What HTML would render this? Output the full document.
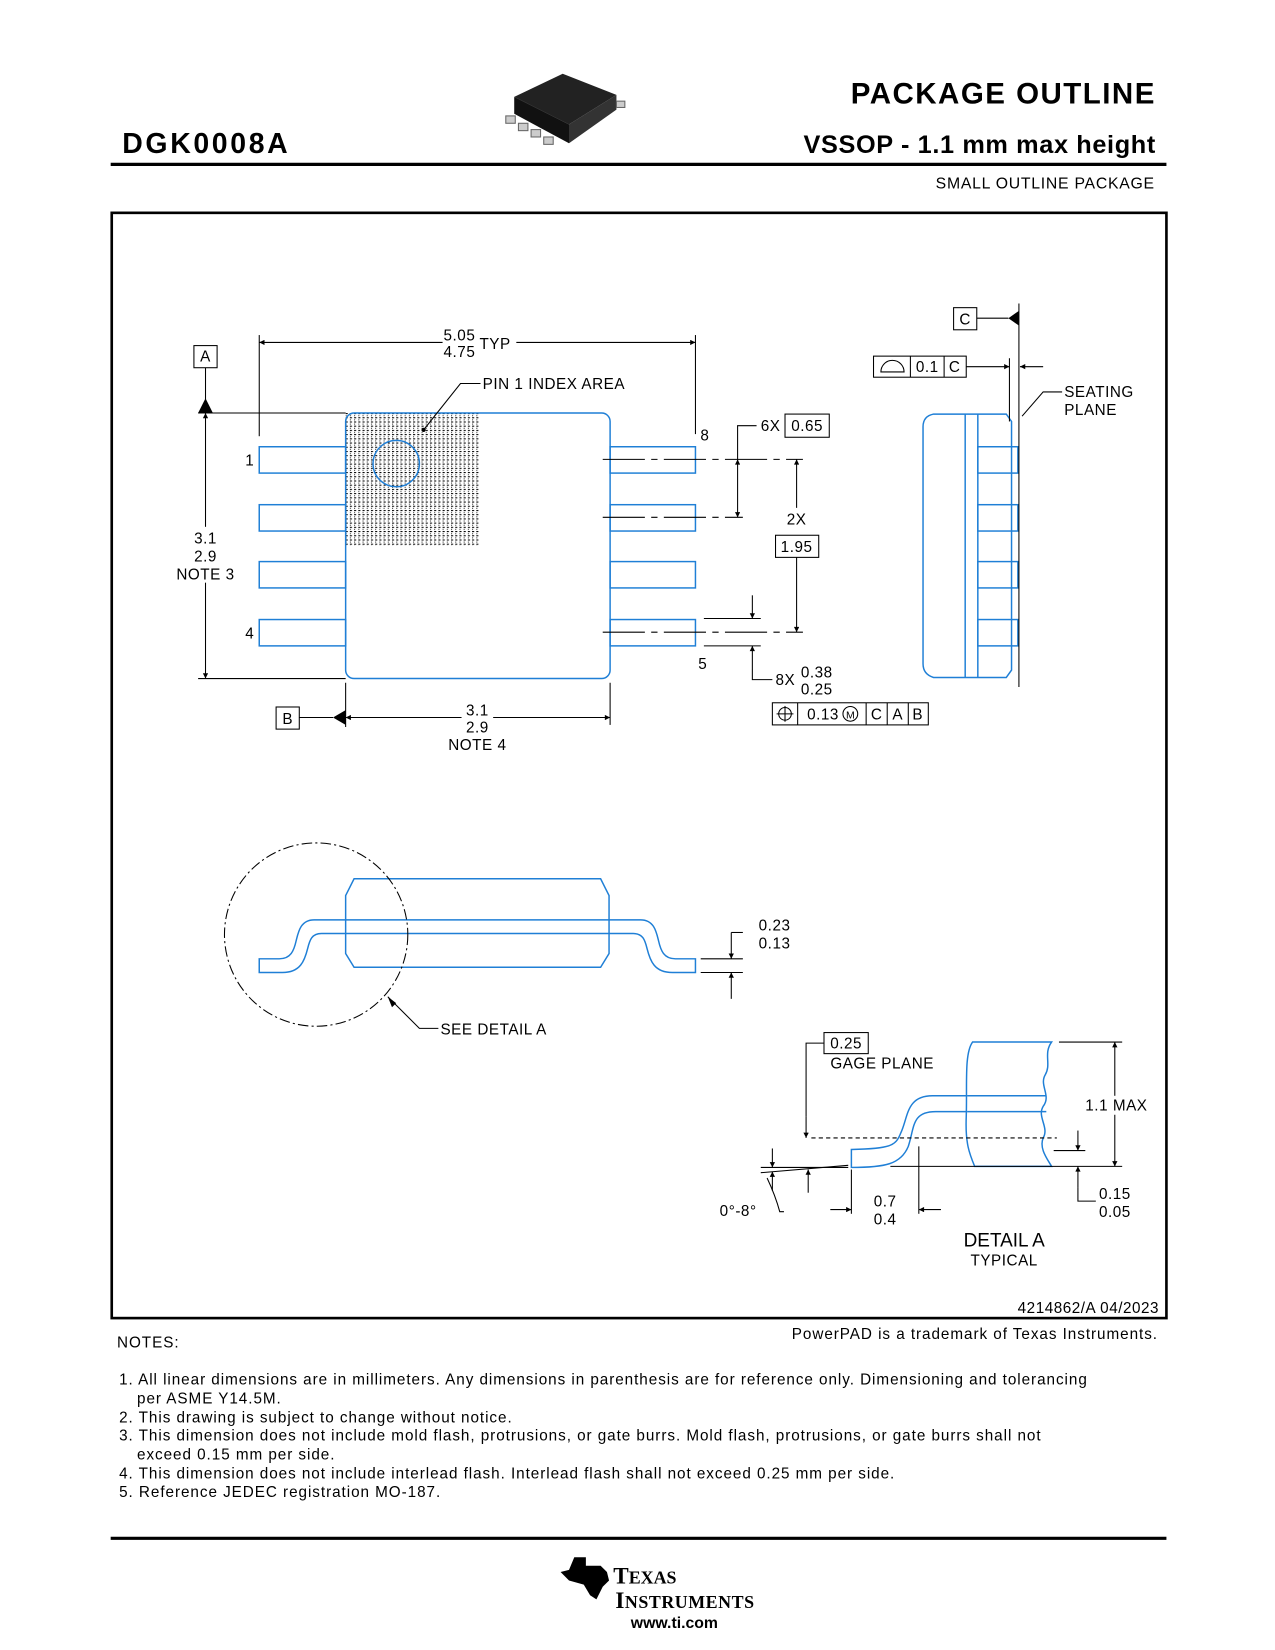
<!DOCTYPE html>
<html><head><meta charset="utf-8"><style>
html,body{margin:0;padding:0;background:#fff}
svg{display:block}
text{font-family:"Liberation Sans",Arial,sans-serif;fill:#000}
.t{font-size:14.5px;letter-spacing:0.5px}
.n{font-size:14.5px;letter-spacing:0.9px}
.b{stroke:#1f7fd6;stroke-width:1.4;fill:none}
.k{stroke:#000;stroke-width:1;fill:none}
.kf{fill:#000;stroke:none}
</style></head><body>
<svg width="1275" height="1650" viewBox="0 0 1210 1566" xmlns="http://www.w3.org/2000/svg" xml:space="preserve">
<defs>
<pattern id="h" width="4" height="4" patternUnits="userSpaceOnUse"><rect x="0" y="0" width="2" height="1" fill="#000"/><rect x="0" y="2" width="1" height="1" fill="#333"/></pattern>
<marker id="a" viewBox="0 0 10 10" refX="10" refY="5" markerWidth="9" markerHeight="5" orient="auto-start-reverse" markerUnits="userSpaceOnUse"><path d="M0 0 L10 5 L0 10 z" fill="#000"/></marker>
</defs>
<!-- header -->
<text x="1097" y="98" font-size="28" font-weight="bold" text-anchor="end" letter-spacing="1.4">PACKAGE OUTLINE</text>
<text x="116" y="145" font-size="27" font-weight="bold" letter-spacing="2.5">DGK0008A</text>
<text x="1097" y="145" font-size="24" font-weight="bold" text-anchor="end" letter-spacing="0.6">VSSOP - 1.1 mm max height</text>
<line x1="105" y1="156" x2="1107" y2="156" stroke="#000" stroke-width="3"/>
<text x="1096" y="179" font-size="15" text-anchor="end" letter-spacing="0.7">SMALL OUTLINE PACKAGE</text>
<!-- chip icon -->
<path d="M488 92 L534 70 L585 90 L540 118 Z" fill="#222"/>
<path d="M488 92 L540 118 L540 136 L488 108 Z" fill="#111"/>
<path d="M540 118 L585 90 L585 104 L540 136 Z" fill="#333"/>
<g fill="#ccc" stroke="#666" stroke-width="1"><rect x="480" y="110" width="9" height="7"/><rect x="492" y="117" width="9" height="7"/><rect x="504" y="123" width="9" height="7"/><rect x="516" y="130" width="9" height="7"/><rect x="585" y="96" width="8" height="6"/></g>
<!-- frame -->
<rect x="106" y="202" width="1001" height="1049" fill="none" stroke="#000" stroke-width="2.5"/>

<!-- TOP VIEW -->
<rect x="328" y="392" width="127" height="126" fill="url(#h)"/>
<rect x="328" y="392" width="251" height="252" rx="8" class="b"/>
<circle cx="376" cy="440" r="22" class="b"/>
<g class="b">
<rect x="246" y="424" width="82" height="25"/><rect x="246" y="479" width="82" height="25"/><rect x="246" y="533" width="82" height="25"/><rect x="246" y="588" width="82" height="25"/>
<rect x="579" y="424" width="81" height="25"/><rect x="579" y="479" width="81" height="25"/><rect x="579" y="533" width="81" height="25"/><rect x="579" y="588" width="81" height="25"/>
</g>
<g class="k">
<line x1="246" y1="318" x2="246" y2="414"/><line x1="660" y1="318" x2="660" y2="412"/>
<line x1="246" y1="325" x2="420" y2="325" marker-start="url(#a)"/><line x1="490" y1="325" x2="660" y2="325" marker-end="url(#a)"/>
<rect x="184" y="328" width="22" height="21"/>
<line x1="195" y1="349" x2="195" y2="382"/>
<line x1="188" y1="392" x2="328" y2="392"/><line x1="188" y1="644" x2="328" y2="644"/>
<line x1="195" y1="392" x2="195" y2="500" marker-start="url(#a)"/><line x1="195" y1="553" x2="195" y2="644" marker-end="url(#a)"/>
<polyline points="456,364 437,364 402,408"/>
<rect x="262" y="671" width="22" height="21"/><line x1="284" y1="681" x2="316" y2="681"/>
<line x1="328" y1="648" x2="328" y2="690"/><line x1="579" y1="648" x2="579" y2="688"/>
<line x1="328" y1="681" x2="438" y2="681" marker-start="url(#a)"/><line x1="468" y1="681" x2="579" y2="681" marker-end="url(#a)"/>
<line x1="572" y1="436" x2="762" y2="436" stroke-dasharray="40,6,6,6"/>
<line x1="572" y1="491" x2="705" y2="491" stroke-dasharray="40,6,6,6"/>
<line x1="572" y1="600" x2="762" y2="600" stroke-dasharray="40,6,6,6"/>
<polyline points="718,404 700,404 700,436"/>
<line x1="700" y1="436" x2="700" y2="491" marker-start="url(#a)" marker-end="url(#a)"/>
<rect x="745" y="393" width="42" height="22"/>
<line x1="756" y1="436" x2="756" y2="482" marker-start="url(#a)"/><line x1="756" y1="529" x2="756" y2="600" marker-end="url(#a)"/>
<rect x="736" y="508" width="41" height="21"/>
<line x1="668" y1="587" x2="722" y2="587"/><line x1="668" y1="613" x2="722" y2="613"/>
<line x1="714" y1="565" x2="714" y2="587" marker-end="url(#a)"/><line x1="714" y1="635" x2="714" y2="613" marker-end="url(#a)"/>
<polyline points="714,635 714,645 733,645"/>
<rect x="733" y="667" width="148" height="21"/>
<line x1="757" y1="667" x2="757" y2="688"/><line x1="822" y1="667" x2="822" y2="688"/><line x1="842" y1="667" x2="842" y2="688"/><line x1="862" y1="667" x2="862" y2="688"/>
<circle cx="745" cy="677.5" r="6"/><line x1="737" y1="677.5" x2="753" y2="677.5"/><line x1="745" y1="670" x2="745" y2="685"/>
<circle cx="807" cy="677.5" r="7"/>
</g>
<path d="M188 392 L195 378 L202 392 Z" class="kf"/>
<path d="M316 681 L328 674 L328 688 Z" class="kf"/>
<circle cx="402" cy="408" r="2" class="kf"/>
<g class="t">
<text x="436" y="323" text-anchor="middle">5.05</text><text x="436" y="339" text-anchor="middle">4.75</text><text x="455" y="331">TYP</text>
<text x="195" y="343" text-anchor="middle">A</text>
<text x="458" y="369">PIN 1 INDEX AREA</text>
<text x="195" y="516" text-anchor="middle">3.1</text><text x="195" y="533" text-anchor="middle">2.9</text><text x="195" y="550" text-anchor="middle">NOTE 3</text>
<text x="237" y="442" text-anchor="middle">1</text><text x="237" y="606" text-anchor="middle">4</text>
<text x="669" y="418" text-anchor="middle">8</text><text x="667" y="635" text-anchor="middle">5</text>
<text x="273" y="687" text-anchor="middle">B</text>
<text x="453" y="679" text-anchor="middle">3.1</text><text x="453" y="695" text-anchor="middle">2.9</text><text x="453" y="712" text-anchor="middle">NOTE 4</text>
<text x="722" y="409">6X</text><text x="766" y="409" text-anchor="middle">0.65</text>
<text x="756" y="498" text-anchor="middle">2X</text><text x="756" y="524" text-anchor="middle">1.95</text>
<text x="736" y="650">8X</text><text x="760" y="643">0.38</text><text x="760" y="659">0.25</text>
<text x="766" y="683">0.13</text><text x="832" y="683" text-anchor="middle">C</text><text x="852" y="683" text-anchor="middle">A</text><text x="871" y="683" text-anchor="middle">B</text>
<text x="807" y="682" text-anchor="middle" font-size="10" letter-spacing="0">M</text>
</g>

<!-- SIDE VIEW -->
<path d="M886 393 L955 393 L960 400 L960 636 L955 643 L886 643 Q876 640 876 630 L876 405 Q876 395 886 393 Z" class="b"/>
<g class="b"><line x1="916" y1="393" x2="916" y2="643"/><line x1="928" y1="393" x2="928" y2="643"/>
<rect x="928" y="424" width="38" height="25"/><rect x="928" y="479" width="38" height="25"/><rect x="928" y="533" width="38" height="25"/><rect x="928" y="588" width="38" height="25"/></g>
<g class="k">
<rect x="905" y="292" width="22" height="21"/><line x1="927" y1="302" x2="957" y2="302"/>
<line x1="967" y1="288" x2="967" y2="652"/>
<line x1="958" y1="340" x2="958" y2="400"/>
<rect x="829" y="338" width="88" height="20"/><line x1="864" y1="338" x2="864" y2="358"/><line x1="896" y1="338" x2="896" y2="358"/>
<path d="M836 353 A11 11 0 0 1 858 353 Z"/>
<line x1="917" y1="348" x2="958" y2="348" marker-end="url(#a)"/>
<line x1="990" y1="348" x2="968" y2="348" marker-end="url(#a)"/>
<polyline points="1008,372 990,372 970,395"/>
</g>
<path d="M957 302 L967 295 L967 309 Z" class="kf"/>
<g class="t"><text x="916" y="308" text-anchor="middle">C</text><text x="880" y="353" text-anchor="middle">0.1</text><text x="906" y="353" text-anchor="middle">C</text>
<text x="1010" y="377">SEATING</text><text x="1010" y="394">PLANE</text></g>

<!-- END VIEW -->
<path d="M336 834 L570 834 L578 850 L578 905 L570 918 L336 918 L328 905 L328 850 Z" class="b"/>
<g class="b">
<line x1="328" y1="873" x2="578" y2="873"/><line x1="328" y1="886" x2="578" y2="886"/>
<path d="M328 873 L298 873 C285 873 283 885 281 893 C279 902 276 910 265 910 L246 910 L246 923 L268 923 C285 923 289 912 292 900 C294 892 296 886 305 886 L328 886"/>
<path d="M578 873 L608 873 C621 873 623 885 625 893 C627 902 630 910 641 910 L660 910 L660 923 L638 923 C621 923 617 912 614 900 C612 892 610 886 601 886 L578 886"/>
</g>
<g class="k">
<circle cx="300" cy="887" r="87" stroke-dasharray="10,3,2,3"/>
<polyline points="368,946 398,976 416,976"/>
<line x1="665" y1="910" x2="705" y2="910"/><line x1="665" y1="923" x2="705" y2="923"/>
<line x1="694" y1="885" x2="694" y2="910" marker-end="url(#a)"/><polyline points="694,885 705,885"/>
<line x1="694" y1="948" x2="694" y2="923" marker-end="url(#a)"/>
</g>
<path d="M368 946 L376 952 L372 956 Z" class="kf"/>
<g class="t"><text x="720" y="883">0.23</text><text x="720" y="900">0.13</text><text x="418" y="982">SEE DETAIL  A</text></g>

<!-- DETAIL A -->
<g class="b">
<path d="M923 989 L998 989 C990 1000 998 1010 992 1020 C986 1030 998 1040 990 1050 C984 1060 996 1070 990 1080 C986 1090 994 1100 998 1107 L925 1107 C920 1095 916 1085 917 1060 C918 1030 915 1000 923 989 Z"/>
<line x1="918" y1="1040" x2="993" y2="1040"/><line x1="918" y1="1055" x2="993" y2="1055"/>
<path d="M918 1040 L885 1040 C860 1040 862 1060 855 1075 C850 1088 845 1090 808 1091 L808 1108 C840 1108 855 1105 862 1088 C868 1070 865 1055 888 1055 L918 1055"/>
</g>
<g class="k">
<line x1="770" y1="1080" x2="1003" y2="1080" stroke-dasharray="4,3"/>
<rect x="782" y="980" width="42" height="20"/>
<polyline points="782,990 765,990 765,1060"/><line x1="765" y1="1060" x2="765" y2="1080" marker-end="url(#a)"/>
<line x1="1005" y1="989" x2="1065" y2="989"/><line x1="845" y1="1107" x2="1065" y2="1107"/>
<line x1="1058" y1="989" x2="1058" y2="1040" marker-start="url(#a)"/><line x1="1058" y1="1058" x2="1058" y2="1107" marker-end="url(#a)"/>
<line x1="1000" y1="1092" x2="1030" y2="1092"/>
<line x1="1023" y1="1073" x2="1023" y2="1092" marker-end="url(#a)"/>
<line x1="1023" y1="1127" x2="1023" y2="1107" marker-end="url(#a)"/><polyline points="1023,1127 1023,1140 1040,1140"/>
<line x1="808" y1="1110" x2="808" y2="1152"/><line x1="872" y1="1088" x2="872" y2="1152"/>
<line x1="788" y1="1148" x2="808" y2="1148" marker-end="url(#a)"/><line x1="893" y1="1148" x2="872" y2="1148" marker-end="url(#a)"/>
<line x1="722" y1="1108" x2="805" y2="1108"/><line x1="722" y1="1113" x2="805" y2="1106"/>
<line x1="733" y1="1090" x2="733" y2="1108" marker-end="url(#a)"/>
<line x1="733" y1="1130" x2="733" y2="1112" marker-end="url(#a)"/>
<line x1="767" y1="1132" x2="767" y2="1110" marker-end="url(#a)"/>
<path d="M728 1118 Q736 1135 740 1150 L744 1150"/>
</g>
<g class="t"><text x="803" y="995" text-anchor="middle">0.25</text><text x="788" y="1014">GAGE PLANE</text>
<text x="1030" y="1054">1.1 MAX</text><text x="1043" y="1138">0.15</text><text x="1043" y="1155">0.05</text>
<text x="840" y="1145" text-anchor="middle">0.7</text><text x="840" y="1162" text-anchor="middle">0.4</text>
<text x="683" y="1154">0°-8°</text></g>
<text x="953" y="1183" font-size="18" text-anchor="middle">DETAIL A</text>
<text x="953" y="1201" font-size="14.5" text-anchor="middle" letter-spacing="0.5">TYPICAL</text>
<text x="1100" y="1246" class="t" text-anchor="end">4214862/A   04/2023</text>

<!-- notes -->
<g class="n">
<text x="1099" y="1271" text-anchor="end">PowerPAD is a trademark of Texas Instruments.</text>
<text x="111" y="1279">NOTES:</text>
<text x="113" y="1314">1. All linear dimensions are in millimeters. Any dimensions in parenthesis are for reference only. Dimensioning and tolerancing</text>
<text x="130" y="1332">per ASME Y14.5M.</text>
<text x="113" y="1350">2. This drawing is subject to change without notice.</text>
<text x="113" y="1367">3. This dimension does not include mold flash, protrusions, or gate burrs. Mold flash, protrusions, or gate burrs shall not</text>
<text x="130" y="1385">exceed 0.15 mm per side.</text>
<text x="113" y="1403">4. This dimension does not include interlead flash. Interlead flash shall not exceed 0.25 mm per side.</text>
<text x="113" y="1421">5. Reference JEDEC registration MO-187.</text>
</g>
<line x1="105" y1="1460" x2="1107" y2="1460" stroke="#000" stroke-width="3"/>
<!-- TI logo -->
<path d="M545 1478 L556 1478 L556 1486 L570 1486 L576 1492 L578 1500 L572 1506 L566 1518 L560 1514 L554 1504 L540 1500 L532 1492 L540 1490 Z" fill="#000"/>
<text x="582" y="1503" font-size="22" font-weight="bold" style="font-family:'Liberation Serif',serif">T<tspan font-size="17">EXAS</tspan></text>
<text x="584" y="1526" font-size="22" font-weight="bold" style="font-family:'Liberation Serif',serif" letter-spacing="0.5">I<tspan font-size="17">NSTRUMENTS</tspan></text>
<text x="640" y="1545" font-size="15" font-weight="bold" text-anchor="middle">www.ti.com</text>
</svg>
</body></html>
